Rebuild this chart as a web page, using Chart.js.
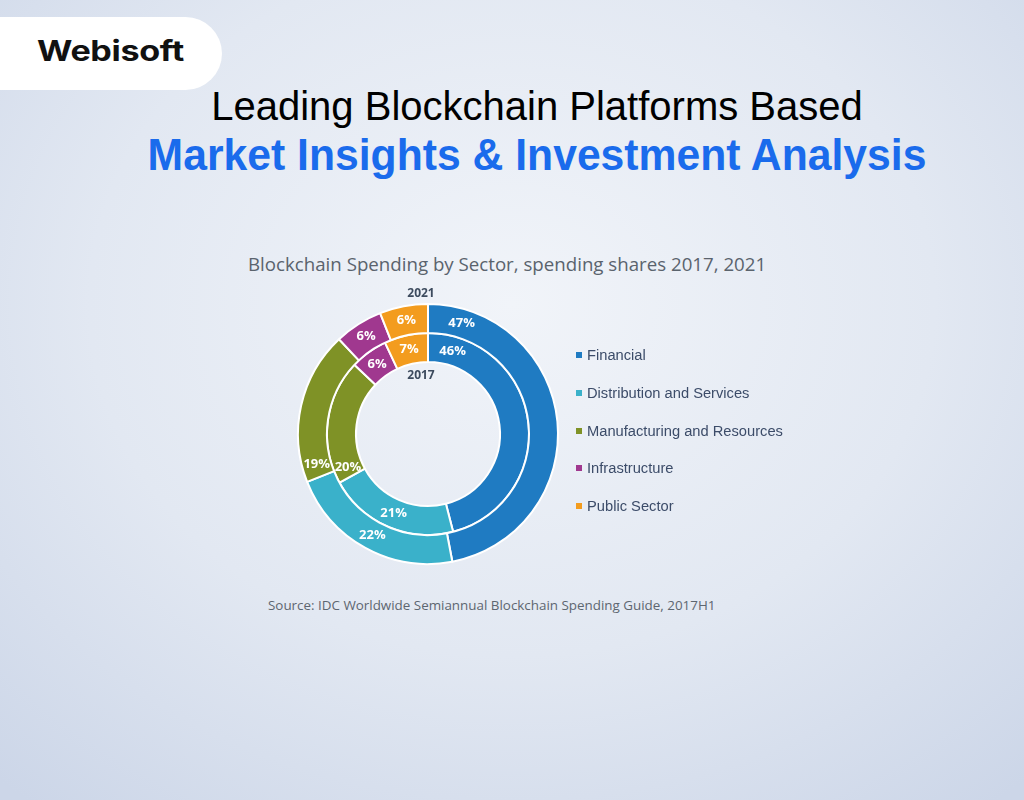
<!DOCTYPE html>
<html>
<head>
<meta charset="utf-8">
<script src="https://cdn.jsdelivr.net/npm/chart.js@4"></script>
<style>
  html, body { margin: 0; padding: 0; }
  body {
    width: 1024px; height: 800px; position: relative; overflow: hidden;
    background: radial-gradient(ellipse 75% 80% at 50% 38%, #f1f4f9 0%, #e2e8f2 55%, #ccd6e8 100%);
    font-family: "Liberation Sans", Arial, sans-serif;
  }
  .logo {
    position: absolute; left: 0; top: 17px; width: 222px; height: 73px;
    background: #fff; border-radius: 0 37px 37px 0;
  }
  .logo span {
    position: absolute; left: 37px; top: 17px; transform: scaleX(1.22); transform-origin: left center;
    font-family: Inter, "Open Sans", sans-serif; font-weight: 700; font-size: 28px;
    letter-spacing: -0.3px; color: #111;
  }
  .t1 {
    position: absolute; left: 0; width: 1074px; top: 84px; text-align: center;
    font-size: 40px; color: #000;
  }
  .t2 {
    position: absolute; left: 0; width: 1074px; top: 130px; text-align: center;
    font-size: 44px; font-weight: 700; color: #1a6bec; transform: scaleX(0.97);
  }
  .sub {
    position: absolute; left: 248px; top: 251px;
    font-family: "Open Sans", sans-serif; font-size: 18.7px; color: #5a636d;
  }
  .src {
    position: absolute; left: 268px; top: 596px;
    font-family: "Open Sans", sans-serif; font-size: 13.4px; color: #5d6670;
  }
  #chart { position: absolute; left: 268px; top: 274px; }
  #legend { position: absolute; left: 576px; top: 347px; }
  #legend div {
    height: 37.8px; font-size: 14.7px; color: #3c4c69; white-space: nowrap;
    font-family: "Liberation Sans", Arial, sans-serif;
  }
  #legend i {
    display: inline-block; width: 6px; height: 6px; margin-right: 5px; vertical-align: 2px;
  }
</style>
</head>
<body>
<div class="logo"><span>Webisoft</span></div>
<div class="t1">Leading Blockchain Platforms Based</div>
<div class="t2">Market Insights &amp; Investment Analysis</div>
<div class="sub">Blockchain Spending by Sector, spending shares 2017, 2021</div>
<canvas id="chart" width="320" height="320"></canvas>
<div id="legend"></div>
<div class="src">Source: IDC Worldwide Semiannual Blockchain Spending Guide, 2017H1</div>

<script>
const sectors = ['Financial', 'Distribution and Services', 'Manufacturing and Resources', 'Infrastructure', 'Public Sector'];
const share2021 = [47, 22, 19, 6, 6];
const share2017 = [46, 21, 20, 6, 7];
const years = ['2021', '2017'];

const colors = ['#1f7bc2', '#3ab1ca', '#7f9226', '#a0388f', '#f39c1e'];
// where along each slice the % label sits (0 = slice start, 0.5 = middle)
const labelAlong = [0.1, 0.5, 0.09, 0.5, 0.5];

// legend
const legend = document.getElementById('legend');
sectors.forEach((s, i) => {
    legend.innerHTML += `<div><i style="background:${colors[i]}"></i>${s}</div>`;
});

const ringLabels = {
    id: 'ringLabels',
    afterDatasetsDraw(chart) {
        const ctx = chart.ctx;
        ctx.save();
        ctx.textAlign = 'center';
        ctx.textBaseline = 'middle';
        ctx.font = 'bold 13px "Open Sans", sans-serif';
        ctx.fillStyle = '#fff';
        chart.data.datasets.forEach((ds, di) => {
            chart.getDatasetMeta(di).data.forEach((arc, i) => {
                const p = arc.getProps(['x', 'y', 'startAngle', 'endAngle', 'innerRadius', 'outerRadius']);
                const a = p.startAngle + (p.endAngle - p.startAngle) * labelAlong[i];
                const r = (p.innerRadius + p.outerRadius) / 2;
                ctx.fillText(ds.data[i] + '%', p.x + Math.cos(a) * r, p.y + Math.sin(a) * r);
            });
        });
        // year captions
        const outer = chart.getDatasetMeta(0).data[0];
        const inner = chart.getDatasetMeta(1).data[0];
        ctx.fillStyle = '#3d4b5e';
        ctx.font = 'bold 12px "Open Sans", sans-serif';
        ctx.fillText(years[0], outer.x - 7, outer.y - outer.outerRadius - 10);
        ctx.fillText(years[1], inner.x - 7, inner.y - inner.innerRadius + 14);
        ctx.restore();
    }
};

new Chart(document.getElementById('chart'), {
    type: 'doughnut',
    data: {
        labels: sectors,
        datasets: [
            { label: years[0], data: share2021, backgroundColor: colors, borderColor: '#ffffff', borderWidth: 2 },
            { label: years[1], data: share2017, backgroundColor: colors, borderColor: '#ffffff', borderWidth: 2 }
        ]
    },
    options: {
        responsive: false,
        animation: false,
        cutout: '55.4%',
        layout: { padding: 29 },
        plugins: {
            legend: { display: false },
            tooltip: { enabled: false }
        }
    },
    plugins: [ringLabels]
});
</script>
</body>
</html>
